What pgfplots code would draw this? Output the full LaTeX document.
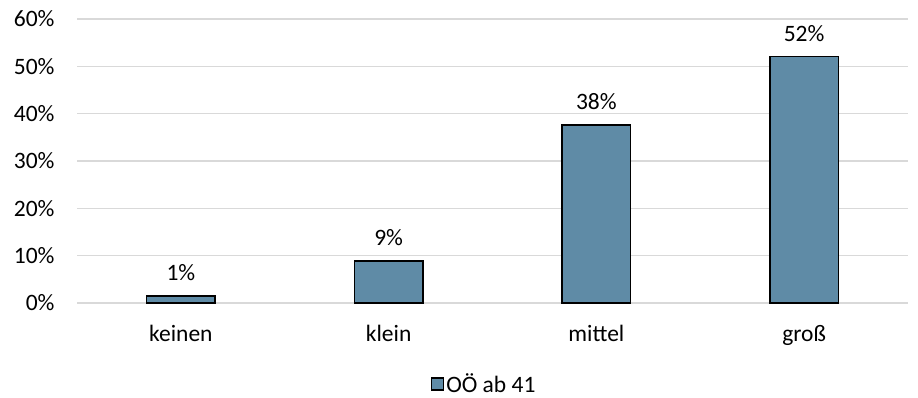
\documentclass[border=0pt]{standalone}
\usepackage{pgfplots}
\pgfplotsset{compat=1.18}
\usepackage{fontspec}
\setmainfont{Carlito}
\definecolor{barblue}{HTML}{5F8BA6}
\definecolor{gridgray}{HTML}{D9D9D9}
\begin{document}
\begin{tikzpicture}
\useasboundingbox (0pt,0pt) rectangle (918pt,-398pt);
\begin{axis}[
  at={(77pt,-19pt)}, anchor=north west,
  scale only axis,
  width=831pt, height=284pt,
  font=\fontsize{23.5}{27}\selectfont,
  ymin=0, ymax=60, ytick={0,10,...,60},
  yticklabel={\pgfmathprintnumber{\tick}\%},
  /pgf/number format/assume math mode=true,
  xmin=-0.5, xmax=3.5,
  xtick={0,1,2,3},
  xticklabels={keinen,klein,mittel,groß},
  axis line style={draw=none},
  major tick length=0pt,
  ymajorgrids, grid style={gridgray, line width=1.2pt},
  yticklabel style={xshift=-19pt},
  xticklabel style={yshift=-19pt},
  bar width=0.33,
  nodes near coords,
  point meta=explicit symbolic,
  nodes near coords style={font=\fontsize{23.5}{27}\selectfont, yshift=11pt},
  legend style={at={(0.49,-0.285)}, anchor=center, draw=none, font=\fontsize{23.5}{27}\selectfont,
    inner sep=1pt,
    legend cell align=left, /tikz/every even column/.append style={column sep=2pt}},
  legend image code/.code={\draw[#1, line width=1.3pt] (0pt,-6pt) rectangle (12pt,6pt);},
  clip=false,
]
\addplot[ybar, fill=barblue, draw=black, line width=1.5pt] coordinates {
  (0,1.5) [1\%]
  (1,8.9) [9\%]
  (2,37.6) [38\%]
  (3,52.1) [52\%]
};
\addlegendentry{OÖ ab 41}
\end{axis}
\end{tikzpicture}
\end{document}
